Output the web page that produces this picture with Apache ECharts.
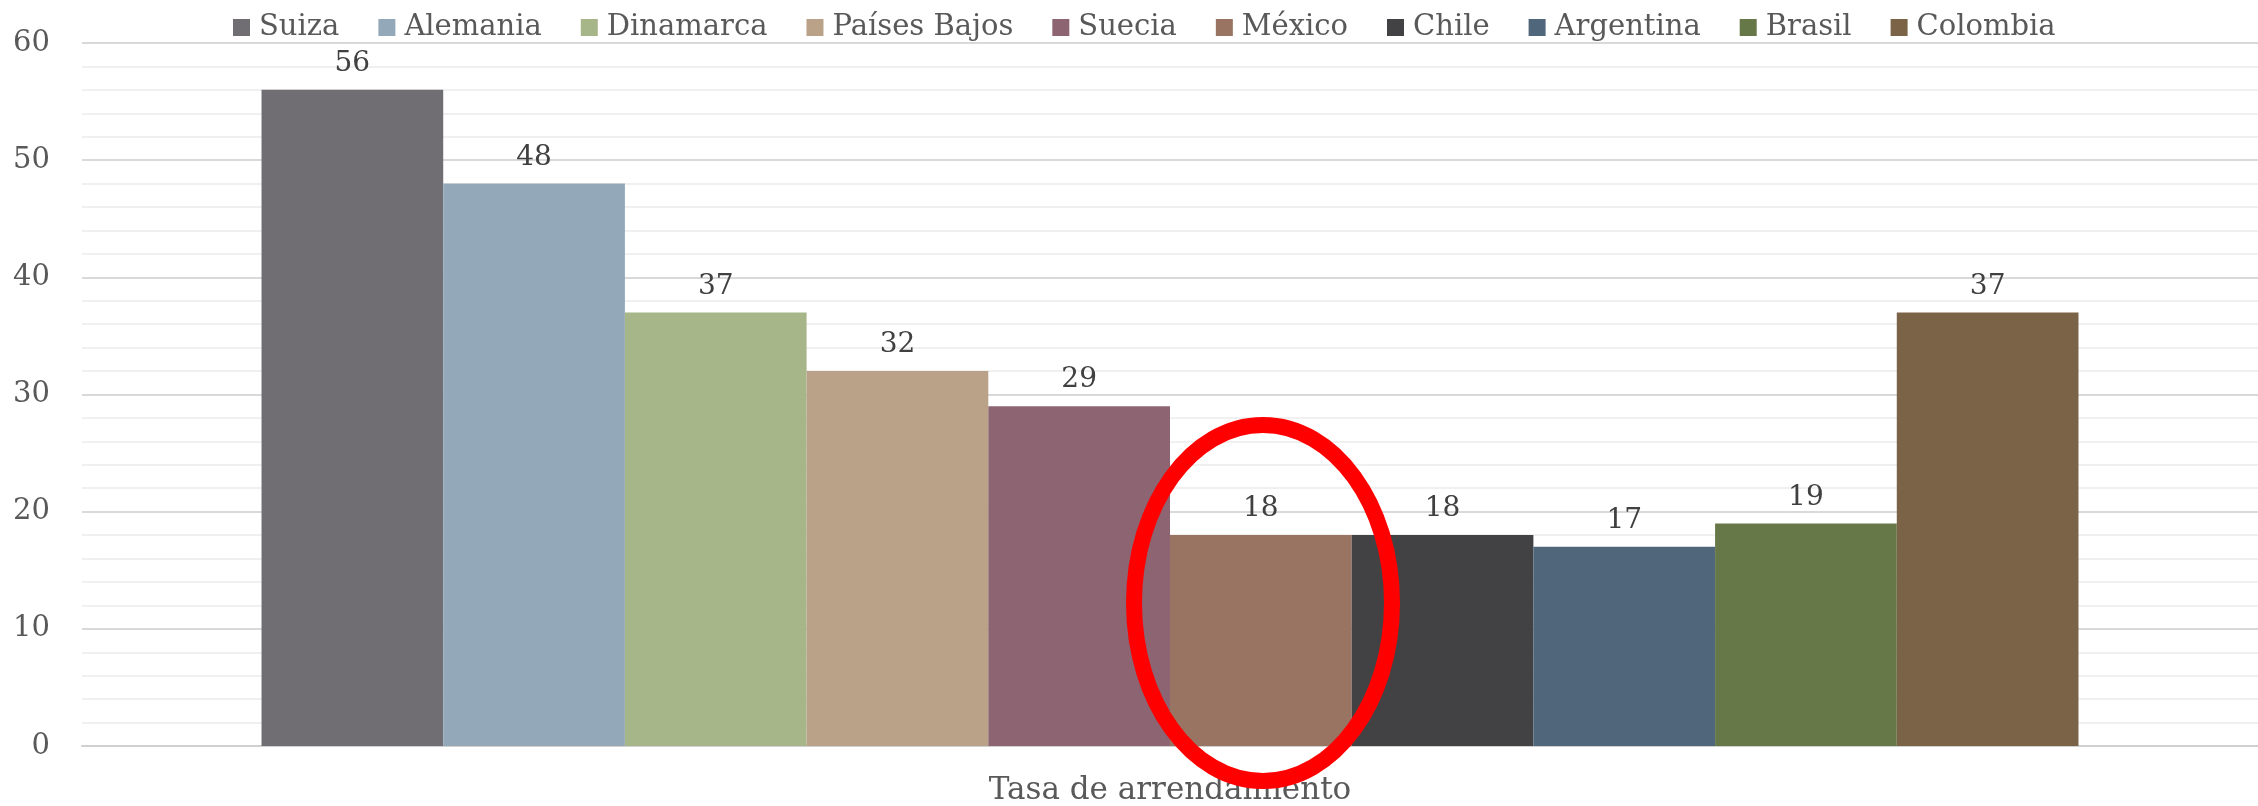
<!DOCTYPE html>
<html>
<head>
<meta charset="utf-8">
<script src="https://cdn.jsdelivr.net/npm/echarts@6/dist/echarts.min.js"></script>
<style>
html,body{margin:0;padding:0;background:#fff;}
#chart{width:2258px;height:806px;}
</style>
</head>
<body>
<div id="chart"></div>
<script>
const categories = ['Tasa de arrendamiento'];
const countries = ['Suiza','Alemania','Dinamarca','Países Bajos','Suecia','México','Chile','Argentina','Brasil','Colombia'];
const values = [56, 48, 37, 32, 29, 18, 18, 17, 19, 37];
const colors = ['#706e73','#93a9ba','#a7b688','#baa288','#8d6472','#9a7462','#424244','#4f667b','#667848','#7a6347'];
const yTicks = [0, 10, 20, 30, 40, 50, 60];

const FONT = '"DejaVu Serif", serif';
const chart = echarts.init(document.getElementById('chart'), null, {renderer: 'canvas'});

const series = countries.map((name, i) => ({
  name: name,
  type: 'bar',
  data: [values[i]],
  itemStyle: {color: colors[i]},
  barGap: '0%',
  barCategoryGap: '16.5%',
  label: {
    show: true,
    position: 'top',
    distance: 12,
    color: '#404040',
    fontFamily: FONT,
    fontSize: 28
  }
}));

chart.setOption({
  animation: false,
  backgroundColor: '#ffffff',
  color: colors,
  legend: {
    data: countries,
    top: 8,
    left: 228,
    itemWidth: 17,
    itemHeight: 17,
    itemGap: 39,
    icon: 'rect',
    textStyle: {fontFamily: FONT, fontSize: 29, color: '#595959', padding: [0,0,0,4]}
  },
  grid: {left: 82, right: 0, top: 43, bottom: 59, containLabel: false},
  xAxis: {
    type: 'category',
    data: categories,
    axisLine: {show: true, lineStyle: {color: '#d0d0d0', width: 2}},
    axisTick: {show: false},
    axisLabel: {fontFamily: FONT, fontSize: 31, color: '#595959', margin: 29}
  },
  yAxis: {
    type: 'value',
    min: yTicks[0],
    max: yTicks[yTicks.length - 1],
    interval: 10,
    axisLine: {show: false},
    axisTick: {show: false},
    axisLabel: {fontFamily: FONT, fontSize: 29, color: '#595959', margin: 32},
    splitLine: {show: true, lineStyle: {color: '#d9d9d9', width: 2}},
    minorTick: {show: false, splitNumber: 5},
    minorSplitLine: {show: true, lineStyle: {color: '#f0f0f0', width: 2}}
  },
  series: series,
  graphic: [{
    type: 'ellipse',
    z: 100,
    shape: {cx: 1263, cy: 603, rx: 129, ry: 178},
    style: {fill: 'none', stroke: '#ff0000', lineWidth: 16}
  }]
});
</script>
</body>
</html>
